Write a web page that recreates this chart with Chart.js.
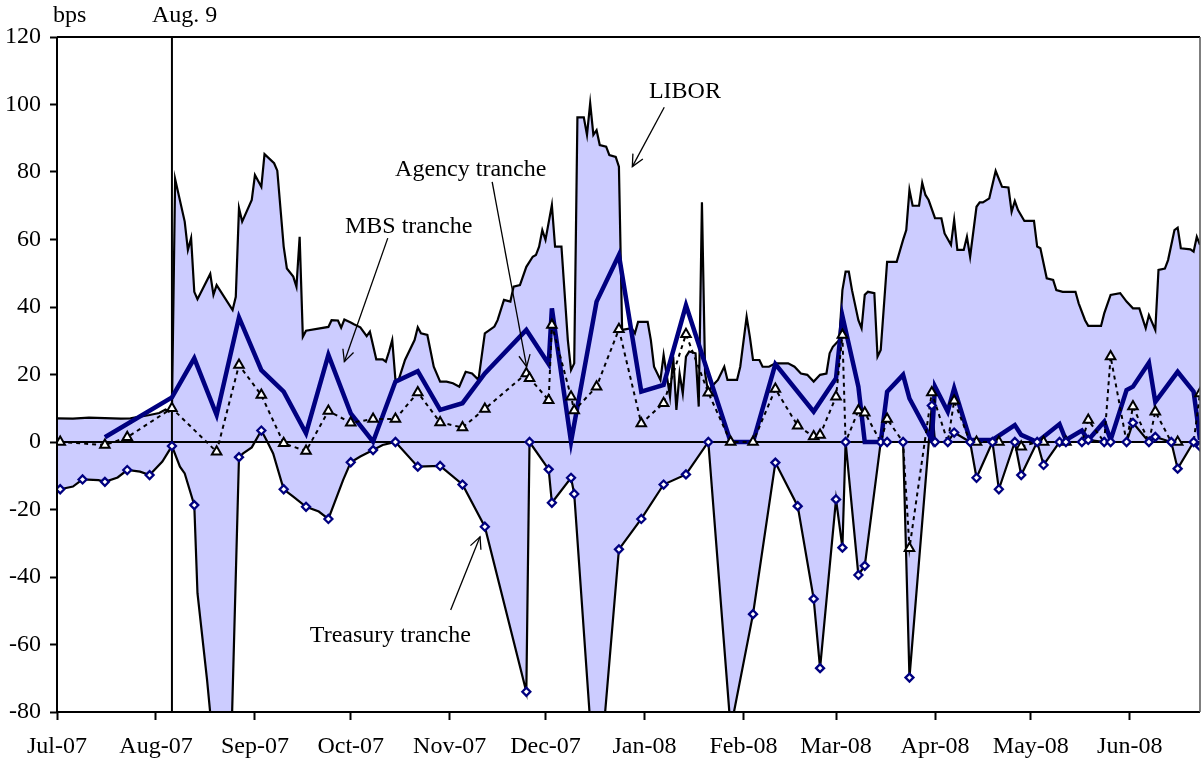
<!DOCTYPE html>
<html><head><meta charset="utf-8">
<script src="https://cdn.jsdelivr.net/npm/chart.js@4.4.1/dist/chart.umd.min.js"></script>
<style>html,body{margin:0;padding:0;background:#fff;} #wrap{width:1202px;height:760px;}</style>
</head><body><div id="wrap"><canvas id="c" width="1202" height="760"></canvas></div>
<script>
// ---- axis definitions (x = days since 1 Jul 2007) ----
const monthLabels = ["Jul-07","Aug-07","Sep-07","Oct-07","Nov-07","Dec-07","Jan-08","Feb-08","Mar-08","Apr-08","May-08","Jun-08"];
const monthDays = [0,31,62,92,123,153,184,215,244,275,305,336];
const yTicks = [-80,-60,-40,-20,0,20,40,60,80,100,120];
const eventDay = 36;
const eventLabel = "Aug. 9";

// ---- LIBOR spread (daily, bps) ----
const liborDays = [0,5,10,15,20,23,26,29,32,34,35,36,37,40,41,42,43,44,48,49,50,55,56,57,58,61,62,64,65,68,69,71,72,74,75,76,77,78,85,86,88,89,90,92,93,95,97,98,100,102,103,104,105,106,107,109,112,113,114,116,118,120,122,124,126,128,130,132,134,137,138,140,142,143,145,147,149,150,151,152,153,155,156,158,160,161,162,163,165,166,167,168,169,170,172,173,175,176,177,180,181,182,185,186,187,189,190,192,193,194,195,196,197,198,200,201,202,203,204,205,207,209,210,213,214,216,217,218,220,221,223,225,229,231,233,235,237,239,241,242,243,245,246,247,248,249,251,252,253,254,256,257,258,260,263,265,266,267,268,270,271,272,273,275,277,278,280,281,282,284,285,286,288,289,290,292,294,296,298,299,300,301,303,306,307,308,310,312,313,315,319,320,322,323,327,328,330,333,335,337,339,341,342,344,345,347,348,350,351,352,355,356,357,358];
const liborValues = [7.0,6.9,7.2,7.1,6.9,7.0,7.5,8.0,8.6,9.6,9.0,9.8,77.9,65.3,56.9,60.4,44.5,42.3,49.8,43.6,46.5,39.1,43.0,69.3,65.3,71.7,79.1,75.6,85.3,82.6,80.4,57.9,51.4,49.0,46.0,60.8,31.2,33.0,34.1,36.1,36.0,33.9,36.3,35.4,34.9,34.0,31.4,32.7,24.5,24.5,23.8,26.8,30.2,18.4,18.4,24.3,30.2,34.0,32.2,31.7,22.3,17.9,17.9,17.4,16.4,20.8,20.3,18.4,32.2,34.2,36.1,42.1,41.6,46.0,46.5,51.9,54.9,55.4,57.9,62.8,59.9,70.2,57.9,57.9,30.2,21.3,23.3,96.2,96.2,91.0,100.4,91.0,92.4,88.0,87.5,85.0,84.5,81.6,33.2,33.7,32.2,35.6,35.6,30.2,22.3,18.4,25.8,13.4,25.3,9.5,20.3,14.4,25.3,26.8,26.3,10.5,71.0,20.3,14.4,16.4,18.4,22.3,18.4,18.4,22.3,37.1,31.2,24.3,24.3,22.3,22.3,23.3,23.3,22.3,20.3,19.9,17.9,19.9,20.3,26.3,28.2,30.2,45.0,50.5,50.5,45.0,36.1,33.7,43.6,44.5,44.1,25.3,27.3,53.4,53.4,59.9,62.8,74.7,70.0,70.0,76.8,73.2,71.7,66.3,66.3,61.8,58.4,65.8,56.9,56.9,60.8,54.9,69.7,71.0,71.0,72.2,80.3,75.6,75.4,68.2,71.4,68.7,65.5,65.5,57.9,57.4,48.5,48.0,45.0,44.5,44.5,41.1,36.1,34.4,34.4,38.1,43.6,44.1,41.6,39.6,39.6,33.7,37.6,33.2,51.0,51.4,53.9,62.8,63.5,57.4,57.1,56.4,60.8,58.4];

// ---- Treasury tranche (path values; auction = 1 where a marker is shown) ----
const treasuryDays = [0,1,5,8,13,15,19,22,26,29,33,36,38.5,40,43,44,47,51,54,57,58.3,61,64,65.6,67.7,71,74,78,82,85,89.6,92,95,99,102,106,113,120,127,134,147,148,154,155,161,162,169,176,183,190,197,204,211,218,225,232,237,239,244,246,247,251,253,258,260,265,267,274,275,279,281,286,288,293,295,300,302,307,309,314,316,321,323,328,330,335,337,342,344,349,351,356,358];
const treasuryValues = [-14.2,-14,-13.2,-11.1,-11.3,-11.8,-10.5,-8.3,-8.8,-9.8,-5.8,-1.2,-7.3,-9.3,-18.7,-44.8,-70.5,-110,-110,-4.5,-3.4,-1.6,3.4,0.6,-3.4,-14,-16.2,-19.2,-20.6,-22.8,-11.3,-6,-4.3,-2.4,-0.9,0,-7.3,-7.1,-12.6,-25.1,-74,0,-8.1,-18,-10.6,-15.4,-110,-31.8,-22.8,-12.6,-9.6,0,-85,-51,-6.1,-19,-46.5,-67,-17,-31.3,0,-39.4,-36.7,0,0,0,-69.8,10.8,0,0,2.8,0,-10.6,0,-14,0,-9.8,0,-6.8,0,0,0,0.6,0,0,0,5.7,0,1.5,0,-7.9,0,-1.3];
const treasuryAuction = [0,1,0,1,0,1,0,1,0,1,0,1,0,0,1,0,0,0,0,1,0,0,1,0,0,1,0,1,0,1,0,1,0,1,0,1,1,1,1,1,1,1,1,1,1,1,1,1,1,1,1,1,1,1,1,1,1,1,1,1,1,1,1,1,1,1,1,1,1,1,1,1,1,1,1,1,1,1,1,1,1,1,1,1,1,1,1,1,1,1,1,1,1];

// ---- MBS tranche ----
const mbsDays = [15,36,43,50,57,64,71,78,85,92,99,106,113,120,127,134,147,154,155,161,169,176,183,190,197,211,218,225,237,244,246,251,253,258,260,265,267,274,275,279,281,286,293,300,302,307,314,316,321,323,328,330,335,337,342,344,351,356,358];
const mbsValues = [1.4,13.2,24.8,8,36.9,21.3,14.9,2.6,25.8,8.5,0.1,17.9,21,9.5,11.5,20.3,33.2,23.1,39.6,0.1,41.6,55.4,14.9,16.9,40.5,0,0,23.1,9,18.9,37.3,16.4,0,0,14.9,19.9,12.9,0.6,16.4,9,15.9,0.6,0.6,5,2.1,0,5.3,0.6,3.4,0.6,6,0.6,15.4,16.4,23.5,11.9,20.8,14.9,0.6];

// ---- Agency tranche (shown = 1 where a triangle is drawn) ----
const agencyDays = [1,15,22,36,50,57,64,71,78,85,92,99,106,113,120,127,134,147,148,154,155,161,162,169,176,183,190,197,204,211,218,225,232,237,239,244,246,247,251,253,258,260,265,267,274,279,281,286,288,293,295,300,302,307,309,314,316,321,323,328,330,335,337,342,344,349,351,356,358];
const agencyValues = [0,-0.9,1.4,10,-2.9,22.8,13.9,-0.4,-2.7,9.2,5.7,6.8,6.8,14.7,5.8,4.3,9.8,20.3,18.9,12.4,34.7,13.4,9.3,16.4,33.4,5.5,11.5,31.9,14.6,0,0,15.7,4.8,1.6,2.1,13.4,31.7,0,9.3,8.7,0,6.8,0,-31.5,14.7,0,12.2,0,0,0,0,0,-1.4,0,0,0,0,0,6.5,0,25.3,0,10.5,0,9,0,0,0,14.4];
const agencyShown = [1,1,1,1,1,1,1,1,1,1,1,1,1,1,1,1,1,1,1,1,1,1,1,1,1,1,1,1,1,1,1,1,1,1,1,1,1,0,1,1,0,1,0,1,1,0,1,0,1,0,1,0,1,0,1,0,1,0,1,0,1,0,1,0,1,0,1,0,1];

// ---- annotations (data coordinates: day, bps) ----
const notes = [
  {text:"LIBOR", x:185.4, y:101.8, from:[190.2,99.2], to:[180.2,81.6]},
  {text:"Agency tranche", x:105.9, y:78.9, from:[136.3,77.1], to:[147.1,22.3]},
  {text:"MBS tranche", x:90.2, y:61.8, from:[103.6,60.4], to:[90.0,23.8]},
  {text:"Treasury tranche", x:79.2, y:-59.3, from:[123.3,-49.8], to:[132.5,-28.1]}
];

const FILL = '#CCCCFF';
const NAVY = '#000080';
const FONT = '"Liberation Serif", "Times New Roman", serif';

const pts = (d, v) => d.map((x, i) => ({x, y: v[i]}));
const pick = (d, v, f) => d.map((x, i) => ({x, y: v[i]})).filter((p, i) => f[i]);

function arrow(ctx, x1, y1, x2, y2) {
  const ang = Math.atan2(y2 - y1, x2 - x1), L = 13, a = Math.PI / 7;
  ctx.beginPath(); ctx.moveTo(x1, y1); ctx.lineTo(x2, y2); ctx.stroke();
  ctx.beginPath();
  ctx.moveTo(x2 - L * Math.cos(ang - a), y2 - L * Math.sin(ang - a));
  ctx.lineTo(x2, y2);
  ctx.lineTo(x2 - L * Math.cos(ang + a), y2 - L * Math.sin(ang + a));
  ctx.stroke();
}

const overlay = {
  id: 'overlay',
  afterDatasetDraw(chart, args) {
    if (args.index !== 1) return;
    const {ctx, chartArea: a, scales: {x, y}} = chart;
    ctx.save();
    ctx.strokeStyle = '#000'; ctx.lineWidth = 2;
    const y0 = y.getPixelForValue(0);
    ctx.beginPath(); ctx.moveTo(a.left, y0); ctx.lineTo(a.right, y0); ctx.stroke();
    const xe = x.getPixelForValue(eventDay);
    ctx.beginPath(); ctx.moveTo(xe, a.top); ctx.lineTo(xe, a.bottom); ctx.stroke();
    ctx.restore();
  },
  afterDraw(chart) {
    const {ctx, chartArea: a, scales: {x, y}} = chart;
    ctx.save();
    ctx.lineWidth = 2; ctx.strokeStyle = '#000';
    ctx.beginPath();
    ctx.moveTo(a.left, a.top); ctx.lineTo(a.right, a.top);
    ctx.moveTo(a.left, a.top); ctx.lineTo(a.left, a.bottom);
    ctx.moveTo(a.left - 1, a.bottom); ctx.lineTo(a.right, a.bottom);
    ctx.stroke();
    ctx.lineWidth = 1.5; ctx.strokeStyle = '#555';
    ctx.beginPath(); ctx.moveTo(a.right, a.top); ctx.lineTo(a.right, a.bottom); ctx.stroke();
    ctx.fillStyle = '#000';
    ctx.font = '24px ' + FONT;
    ctx.textAlign = 'left'; ctx.textBaseline = 'alphabetic';
    ctx.fillText('bps', a.left - 4, a.top - 15.5);
    const xe = x.getPixelForValue(eventDay);
    ctx.fillText(eventLabel, xe - 20, a.top - 15.5);
    ctx.strokeStyle = '#000'; ctx.lineWidth = 1.3;
    notes.forEach(n => {
      ctx.fillText(n.text, x.getPixelForValue(n.x), y.getPixelForValue(n.y));
      arrow(ctx, x.getPixelForValue(n.from[0]), y.getPixelForValue(n.from[1]),
                 x.getPixelForValue(n.to[0]), y.getPixelForValue(n.to[1]));
    });
    ctx.restore();
  }
};

new Chart(document.getElementById('c'), {
  type: 'line',
  data: {
    datasets: [
      {label: 'LIBOR', data: pts(liborDays, liborValues), borderColor: '#000', borderWidth: 2.2,
       backgroundColor: FILL, fill: 'origin', pointRadius: 0, tension: 0, order: 10},
      {label: 'Treasury tranche area', data: pts(treasuryDays, treasuryValues), borderColor: '#000', borderWidth: 2.2,
       backgroundColor: FILL, fill: 'origin', pointRadius: 0, tension: 0, order: 9},
      {label: 'MBS tranche', data: pts(mbsDays, mbsValues), borderColor: NAVY, borderWidth: 4.5,
       fill: false, pointRadius: 0, tension: 0, order: 4, borderJoinStyle: 'miter'},
      {label: 'Agency tranche line', data: pts(agencyDays, agencyValues), borderColor: '#000', borderWidth: 2,
       borderDash: [4, 4], fill: false, pointRadius: 0, tension: 0, order: 3},
      {label: 'Agency tranche', data: pick(agencyDays, agencyValues, agencyShown), showLine: false,
       pointStyle: 'triangle', pointRadius: 5.5, borderColor: '#000', borderWidth: 2,
       backgroundColor: '#fff', pointBackgroundColor: '#fff', pointBorderColor: '#000', order: 2},
      {label: 'Treasury tranche', data: pick(treasuryDays, treasuryValues, treasuryAuction), showLine: false,
       pointStyle: 'rectRot', pointRadius: 4, borderColor: NAVY, borderWidth: 2.3,
       backgroundColor: '#fff', pointBackgroundColor: '#fff', pointBorderColor: NAVY, order: 1}
    ]
  },
  options: {
    responsive: false, animation: false, devicePixelRatio: 1,
    layout: {autoPadding: false, padding: {top: 37, right: 2, bottom: 0, left: 0}},
    plugins: {legend: {display: false}, tooltip: {enabled: false}},
    scales: {
      x: {
        type: 'linear', min: 0, max: 358,
        afterBuildTicks: s => { s.ticks = monthDays.map(v => ({value: v})); },
        afterFit: s => { s.height = 48; s.paddingLeft = 0; s.paddingRight = 0; },
        ticks: {autoSkip: false, maxRotation: 0, color: '#000', padding: 12,
                font: {family: FONT, size: 24},
                callback: v => monthLabels[monthDays.indexOf(v)]},
        grid: {drawOnChartArea: false, drawTicks: true, tickLength: 8, tickWidth: 2, tickColor: '#000'},
        border: {display: false}
      },
      y: {
        min: -80, max: 120,
        afterBuildTicks: s => { s.ticks = yTicks.map(v => ({value: v})); },
        afterFit: s => { s.width = 57; s.paddingTop = 0; s.paddingBottom = 0; },
        ticks: {color: '#000', padding: 9, font: {family: FONT, size: 24}},
        grid: {drawOnChartArea: false, drawTicks: true, tickLength: 7, tickWidth: 2, tickColor: '#000'},
        border: {display: false}
      }
    }
  },
  plugins: [overlay]
});
</script></body></html>
